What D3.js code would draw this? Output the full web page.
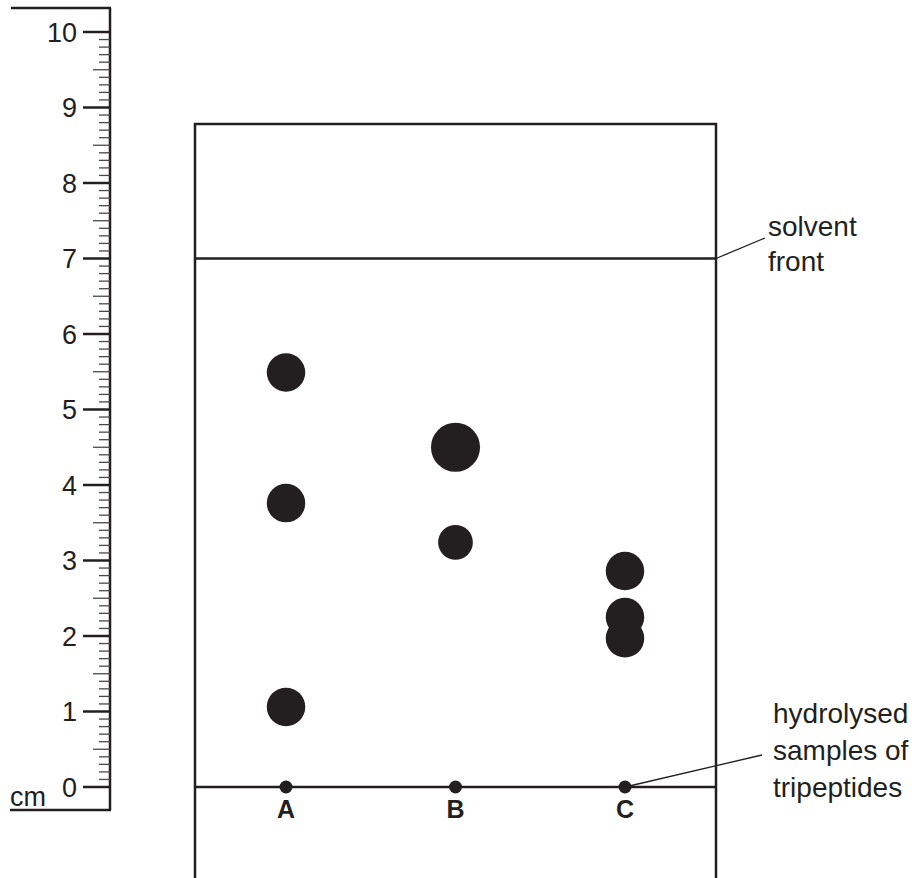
<!DOCTYPE html>
<html>
<head>
<meta charset="utf-8">
<script src="https://cdn.jsdelivr.net/npm/d3@7"></script>
<style>
  body { margin: 0; background: #fff; }
  svg { display: block; font-family: "Liberation Sans", Arial, sans-serif; }
</style>
</head>
<body>
<div id="chart"></div>
<script>
// lanes on the chromatography paper
const lanes = ["A", "B", "C"];

// spots: which lane, distance moved (cm), spot diameter (cm)
const spotLane = ["A", "A", "A", "B", "B", "C", "C", "C"];
const spotCm = [5.49, 3.76, 1.06, 4.50, 3.24, 2.86, 2.25, 1.97];
const spotDiamCm = [0.51, 0.51, 0.51, 0.65, 0.46, 0.51, 0.51, 0.51];

// ruler
const rulerLabels = [0, 1, 2, 3, 4, 5, 6, 7, 8, 9, 10];
const solventFrontCm = 7;
const paperTopCm = 8.78;

const W = 919, H = 878;
const ink = "#231f20";

const svg = d3.select("#chart").append("svg")
  .attr("width", W)
  .attr("height", H);

// scales
const y = d3.scaleLinear().domain([0, 10]).range([787, 32]);
const paperLeft = 195, paperRight = 716;
const x = d3.scalePoint().domain(lanes).range([paperLeft, paperRight]).padding(0.537);
const pxPerCm = y(0) - y(1);

// ---- ruler ----
const ruler = svg.append("g");
const rulerX = 110;

ruler.append("line")
  .attr("x1", rulerX).attr("x2", rulerX)
  .attr("y1", 8).attr("y2", 810)
  .attr("stroke", ink).attr("stroke-width", 2.5);
ruler.append("line")
  .attr("x1", 11).attr("x2", rulerX + 1)
  .attr("y1", 8).attr("y2", 8)
  .attr("stroke", ink).attr("stroke-width", 2.5);
ruler.append("line")
  .attr("x1", 10).attr("x2", rulerX + 1)
  .attr("y1", 810).attr("y2", 810)
  .attr("stroke", ink).attr("stroke-width", 2.5);

// minor / half ticks every mm
const mm = d3.range(0, 101).filter(d => d % 10 !== 0);
ruler.selectAll("line.minor")
  .data(mm)
  .enter()
  .append("line")
  .attr("class", "minor")
  .attr("x1", d => d % 5 === 0 ? rulerX - 17 : rulerX - 11)
  .attr("x2", rulerX)
  .attr("y1", d => y(d / 10))
  .attr("y2", d => y(d / 10))
  .attr("stroke", "#4a4748")
  .attr("stroke-width", 1.3);

// major ticks + labels
ruler.selectAll("line.major")
  .data(rulerLabels)
  .enter()
  .append("line")
  .attr("class", "major")
  .attr("x1", rulerX - 27)
  .attr("x2", rulerX)
  .attr("y1", d => y(d))
  .attr("y2", d => y(d))
  .attr("stroke", ink)
  .attr("stroke-width", 2.5);

ruler.selectAll("text.lbl")
  .data(rulerLabels)
  .enter()
  .append("text")
  .attr("class", "lbl")
  .attr("x", 77)
  .attr("y", d => y(d))
  .attr("dy", "0.36em")
  .attr("text-anchor", "end")
  .attr("font-size", 27)
  .attr("fill", ink)
  .text(d => d);

ruler.append("text")
  .attr("x", 10)
  .attr("y", 806)
  .attr("font-size", 27)
  .attr("fill", ink)
  .text("cm");

// ---- paper ----
const paper = svg.append("g");
paper.append("path")
  .attr("d", "M" + paperLeft + "," + (H + 5)
    + "V" + y(paperTopCm)
    + "H" + paperRight
    + "V" + (H + 5))
  .attr("fill", "none")
  .attr("stroke", ink)
  .attr("stroke-width", 2.5);

// solvent front and base line
[solventFrontCm, 0].forEach(function (cm) {
  paper.append("line")
    .attr("x1", paperLeft).attr("x2", paperRight)
    .attr("y1", y(cm)).attr("y2", y(cm))
    .attr("stroke", ink)
    .attr("stroke-width", 2.5);
});

// origin dots
paper.selectAll("circle.origin")
  .data(lanes)
  .enter()
  .append("circle")
  .attr("class", "origin")
  .attr("cx", d => x(d))
  .attr("cy", y(0))
  .attr("r", 6.5)
  .attr("fill", ink);

// lane letters
paper.selectAll("text.lane")
  .data(lanes)
  .enter()
  .append("text")
  .attr("class", "lane")
  .attr("x", d => x(d))
  .attr("y", 818)
  .attr("text-anchor", "middle")
  .attr("font-size", 25)
  .attr("font-weight", "bold")
  .attr("fill", ink)
  .text(d => d);

// spots
paper.selectAll("circle.spot")
  .data(spotCm)
  .enter()
  .append("circle")
  .attr("class", "spot")
  .attr("cx", (d, i) => x(spotLane[i]))
  .attr("cy", d => y(d))
  .attr("r", (d, i) => spotDiamCm[i] * pxPerCm / 2)
  .attr("fill", ink);

// ---- annotations ----
const notes = svg.append("g");
notes.append("line")
  .attr("x1", paperRight).attr("y1", y(solventFrontCm))
  .attr("x2", 765).attr("y2", 238)
  .attr("stroke", ink).attr("stroke-width", 1.3);

notes.append("text")
  .attr("x", 768)
  .attr("y", 236)
  .attr("font-size", 28)
  .attr("fill", ink)
  .selectAll("tspan")
  .data(["solvent", "front"])
  .enter()
  .append("tspan")
  .attr("x", 768)
  .attr("dy", (d, i) => i === 0 ? 0 : 35)
  .text(d => d);

notes.append("line")
  .attr("x1", x("C")).attr("y1", y(0))
  .attr("x2", 762).attr("y2", 755)
  .attr("stroke", ink).attr("stroke-width", 1.3);

notes.append("text")
  .attr("x", 773)
  .attr("y", 723)
  .attr("font-size", 28)
  .attr("fill", ink)
  .selectAll("tspan")
  .data(["hydrolysed", "samples of", "tripeptides"])
  .enter()
  .append("tspan")
  .attr("x", 773)
  .attr("dy", (d, i) => i === 0 ? 0 : 37)
  .text(d => d);
</script>
</body>
</html>
